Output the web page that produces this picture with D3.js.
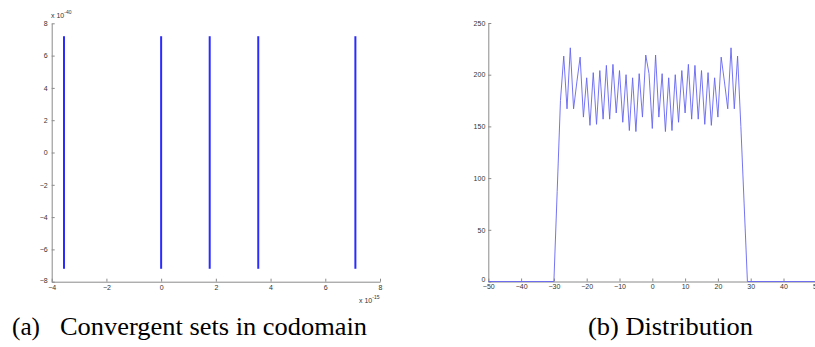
<!DOCTYPE html>
<html>
<head>
<meta charset="utf-8">
<script src="https://cdn.jsdelivr.net/npm/d3@7/dist/d3.min.js"></script>
<style>
  body { margin: 0; background: #fff; }
  svg { display: block; }
  .tick text { fill: #333; }
  .caption { font-family: "Liberation Serif", "Times New Roman", Times, serif; font-size: 26px; fill: #000; }
</style>
</head>
<body>
<div id="chart"></div>
<script>
// (a) convergent sets: x positions (x 1e-15) and vertical extent (x 1e-40)
const setX = [-3.55, 0, 1.775, 3.55, 7.1];
const setYRange = [-7.2, 7.2];
const aTicksX = [-4, -2, 0, 2, 4, 6, 8];
const aTicksY = [-8, -6, -4, -2, 0, 2, 4, 6, 8];

// (b) distribution
const distX = [-50, -30, -29, -28, -27, -26, -25, -24, -23, -22, -21, -20, -19, -18, -17, -16,
    -15, -14, -13, -12, -11, -10, -9, -8, -7, -6, -5, -4, -3, -2, -1, 0,
    1, 2, 3, 4, 5, 6, 7, 8, 9, 10, 11, 12, 13, 14, 15, 16,
    17, 18, 19, 20, 21, 22, 23, 24, 25, 26, 27, 28, 29, 50];
const distY = [0, 0, 87, 175, 218, 167, 226, 167, 193, 217, 159, 197, 151, 202, 152, 204,
    157, 209, 157, 210, 163, 204, 154, 200, 146, 197, 145, 201, 159, 219, 201, 148,
    219, 159, 201, 145, 197, 146, 200, 154, 204, 163, 210, 157, 209, 157, 204, 152,
    202, 151, 197, 159, 217, 193, 167, 226, 167, 218, 150, 75, 0, 0];
const bTicksX = [-50, -40, -30, -20, -10, 0, 10, 20, 30, 40, 50];
const bTicksY = [0, 50, 100, 150, 200, 250];

const captions = ["(a)", "Convergent sets in codomain", "(b) Distribution"];

const width = 815, height = 347;
const axisFont = "Liberation Sans, Arial, sans-serif";

const svg = d3.select("#chart").append("svg")
    .attr("width", width)
    .attr("height", height);

svg.append("rect").attr("width", width).attr("height", height).attr("fill", "#fff");

const style_axis = function (g) {
    g.attr("font-family", axisFont).attr("font-size", 7);
    g.select(".domain").attr("stroke", "#8a8a8a");
    g.selectAll(".tick line").attr("stroke", "#8a8a8a");
}

// ---- (a) ----
const xA = d3.scaleLinear().domain([-4, 8]).range([51.7, 380]);
const yA = d3.scaleLinear().domain([-8, 8]).range([281.7, 23.3]);

svg.append("g")
    .attr("stroke", "#2b2bff")
    .attr("stroke-width", 2)
    .selectAll("line")
    .data(setX)
    .join("line")
    .attr("x1", d => xA(d))
    .attr("x2", d => xA(d))
    .attr("y1", yA(setYRange[0]))
    .attr("y2", yA(setYRange[1]));

svg.append("g")
    .attr("transform", `translate(0,${yA(-8)})`)
    .call(d3.axisBottom(xA).tickValues(aTicksX).tickFormat(d3.format("d"))
        .tickSizeInner(-3).tickSizeOuter(0).tickPadding(3))
    .call(style_axis);

svg.append("g")
    .attr("transform", `translate(${xA(-4)},0)`)
    .call(d3.axisLeft(yA).tickValues(aTicksY).tickFormat(d3.format("d"))
        .tickSizeInner(-3).tickSizeOuter(0).tickPadding(4))
    .call(style_axis)
    .selectAll(".tick text")
    .filter(d => d === -8)
    .attr("dy", "0.1em");

// exponent labels
const expo = function (x, y, e) {
    const t = svg.append("text")
        .attr("x", x).attr("y", y)
        .attr("font-family", axisFont)
        .attr("font-size", 7)
        .attr("fill", "#333")
        .text("x 10");
    t.append("tspan").attr("dy", -4).attr("font-size", 5).text(e);
}
expo(51, 18, "-40");
expo(359, 303, "-15");

// ---- (b) ----
const xB = d3.scaleLinear().domain([-50, 50]).range([488.3, 816.3]);
const yB = d3.scaleLinear().domain([0, 250]).range([281.5, 23]);

svg.append("g")
    .attr("transform", `translate(0,${yB(0)})`)
    .call(d3.axisBottom(xB).tickValues(bTicksX).tickFormat(d3.format("d"))
        .tickSizeInner(-3).tickSizeOuter(0).tickPadding(3))
    .call(style_axis);

svg.append("g")
    .attr("transform", `translate(${xB(-50)},0)`)
    .call(d3.axisLeft(yB).tickValues(bTicksY).tickFormat(d3.format("d"))
        .tickSizeInner(-3).tickSizeOuter(0).tickPadding(3))
    .call(style_axis)
    .selectAll(".tick text")
    .filter(d => d === 0)
    .attr("dy", "0.05em");

const line = d3.line()
    .x((d, i) => xB(distX[i]))
    .y(d => yB(d));

svg.append("path")
    .datum(distY)
    .attr("fill", "none")
    .attr("stroke", "#6464f2")
    .attr("stroke-width", 0.9)
    .attr("d", line);

// ---- captions ----
svg.append("text").attr("class", "caption")
    .attr("x", 12).attr("y", 335)
    .attr("textLength", 28).attr("lengthAdjust", "spacingAndGlyphs")
    .text(captions[0]);
svg.append("text").attr("class", "caption")
    .attr("x", 60).attr("y", 335)
    .attr("textLength", 307).attr("lengthAdjust", "spacingAndGlyphs")
    .text(captions[1]);
svg.append("text").attr("class", "caption")
    .attr("x", 588).attr("y", 335)
    .attr("textLength", 165).attr("lengthAdjust", "spacingAndGlyphs")
    .text(captions[2]);
</script>
</body>
</html>
